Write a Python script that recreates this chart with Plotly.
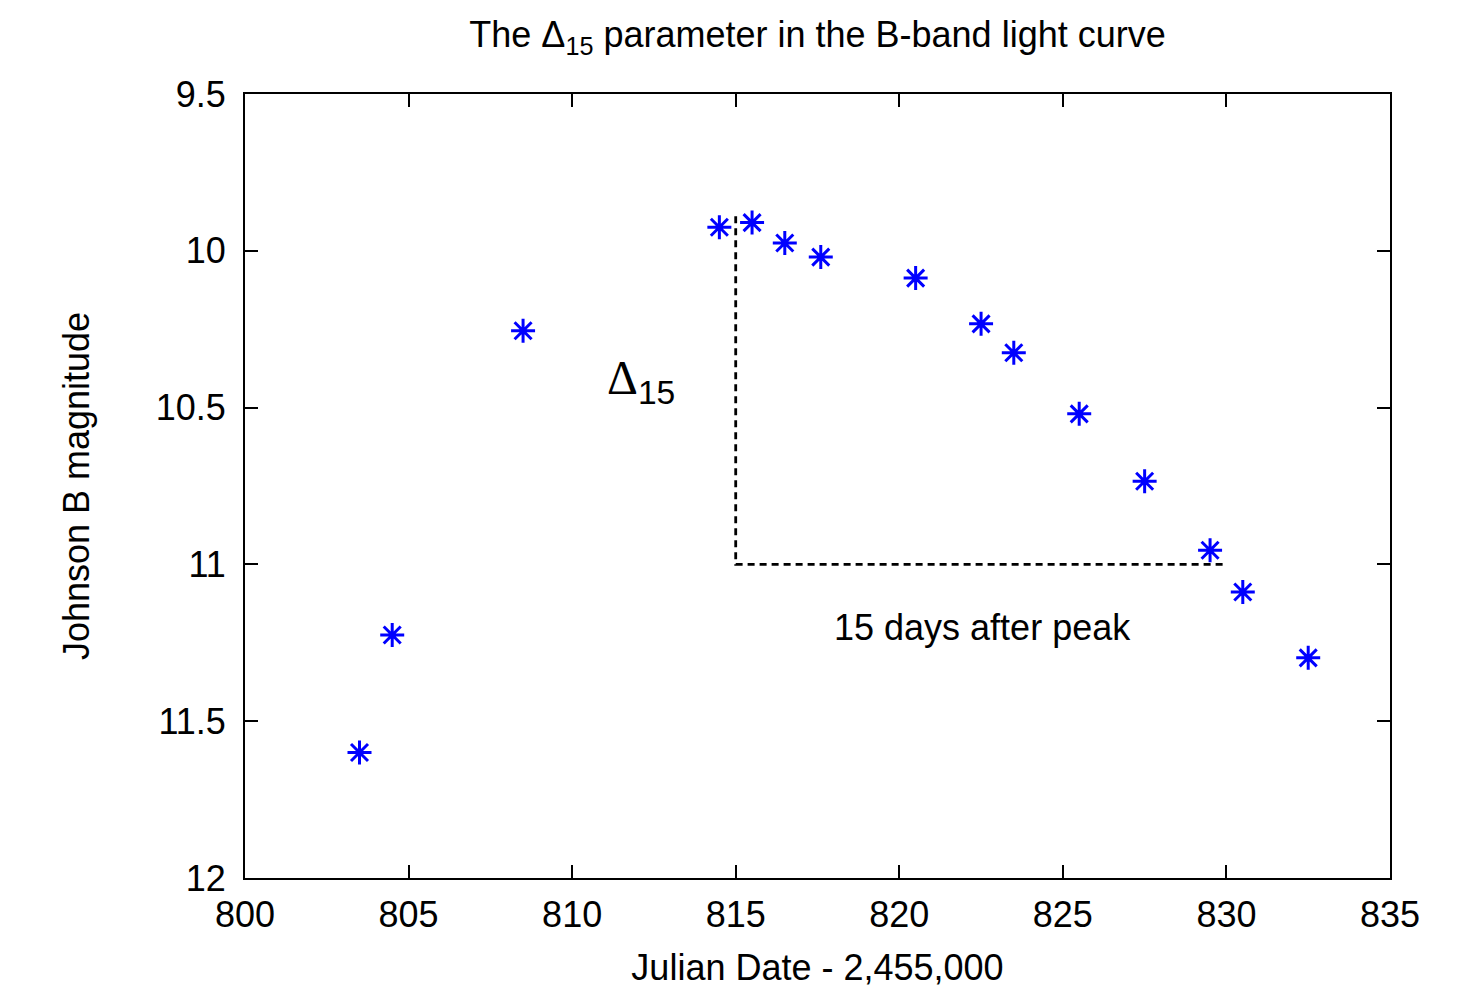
import plotly.graph_objects as go

# Data (Julian Date - 2,455,000 ; Johnson B magnitude)
jd = [803.5, 804.5, 808.5, 814.5, 815.5, 816.5, 817.6, 820.5, 822.5, 823.5,
      825.5, 827.5, 829.5, 830.5, 832.5]
bmag = [11.60, 11.225, 10.255, 9.925, 9.91, 9.975, 10.02, 10.087, 10.233, 10.325,
        10.52, 10.735, 10.955, 11.088, 11.298]

# Delta-15 guide lines
guide_x = [815, 815, 830]
guide_y = [9.89, 11.0, 11.0]

x_ticks = [800, 805, 810, 815, 820, 825, 830, 835]
y_ticks = [9.5, 10, 10.5, 11, 11.5, 12]
y_ticktext = ["9.5", "10", "10.5", "11", "11.5", "12"]

FONT = "Liberation Sans, Arial, sans-serif"
FS = 36

fig = go.Figure()
fig.add_trace(go.Scatter(
    x=guide_x, y=guide_y, mode="lines",
    line=dict(color="black", width=2.8, dash="7px,5px"),
    hoverinfo="skip", showlegend=False))
fig.add_trace(go.Scatter(
    x=jd, y=bmag, mode="markers",
    marker=dict(symbol="asterisk-open", size=20, color="#0000ff",
                line=dict(color="#0000ff", width=3)),
    showlegend=False))

fig.add_annotation(x=812.1, y=10.415, xref="x", yref="y",
                   text="<span style=\"font-family:'Liberation Serif', serif\">Δ</span><sub>15</sub>",
                   showarrow=False,
                   font=dict(size=48, color="black", family=FONT))
fig.add_annotation(x=822.55, y=11.2, xref="x", yref="y",
                   text="15 days after peak", showarrow=False,
                   font=dict(size=FS, color="black", family=FONT))

axis_common = dict(showline=True, linecolor="black", linewidth=2, mirror="ticks",
                   ticks="inside", ticklen=13, tickwidth=2, tickcolor="black",
                   showgrid=False, zeroline=False,
                   tickfont=dict(size=FS, color="black", family=FONT))

fig.update_xaxes(range=[800, 835], tickvals=x_ticks, ticklabelstandoff=4,
                 title=dict(text="Julian Date - 2,455,000", font=dict(size=FS, color="black", family=FONT),
                            standoff=21),
                 **axis_common)
fig.update_yaxes(range=[12, 9.5], tickvals=y_ticks, ticktext=y_ticktext, ticklabelstandoff=10,
                 title=dict(text="Johnson B magnitude", font=dict(size=FS, color="black", family=FONT),
                            standoff=55),
                 **axis_common)

fig.update_layout(
    width=1478, height=995,
    paper_bgcolor="white", plot_bgcolor="white",
    margin=dict(l=237, r=96, t=86, b=125),
    title=dict(text="The Δ<sub>15</sub> parameter in the B-band light curve",
               xref="paper", x=0.5, xanchor="center", y=0.973, yanchor="middle",
               font=dict(size=FS, color="black", family=FONT)),
    font=dict(family=FONT, color="black"),
)

fig.write_html("out.html")
